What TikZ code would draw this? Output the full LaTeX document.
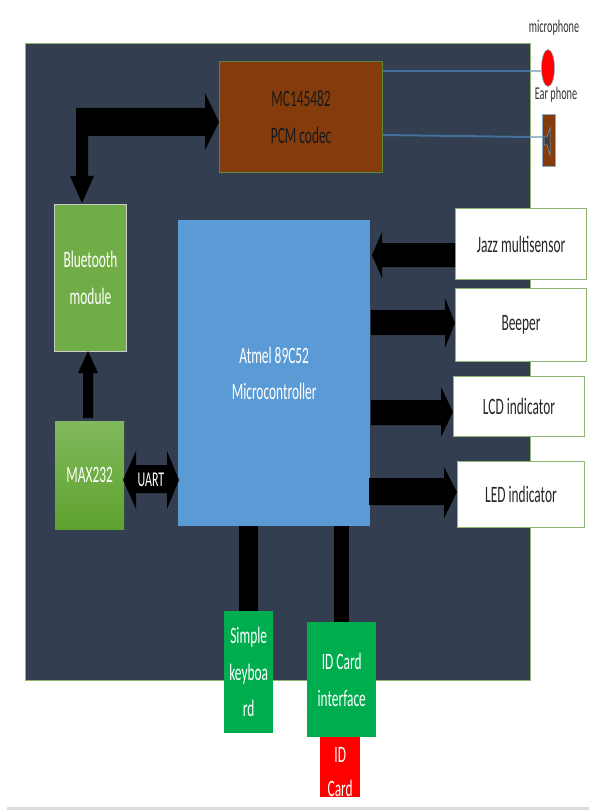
\documentclass[tikz,border=0pt]{standalone}
\usepackage{fontspec}
\usetikzlibrary{shapes.geometric}
\setmainfont[FakeStretch=0.57]{Carlito}
\definecolor{panel}{HTML}{333F50}
\definecolor{edgegreen}{HTML}{8FB573}
\definecolor{codec}{HTML}{843C0C}
\definecolor{mcu}{HTML}{5B9BD5}
\definecolor{leaf}{HTML}{70AD47}
\definecolor{leaftop}{HTML}{80B95C}
\definecolor{leafbottom}{HTML}{5FA22F}
\definecolor{idgreen}{HTML}{00AD4E}
\definecolor{wire}{HTML}{41719C}
\tikzset{
  x=1pt,y=-1pt,
  block/.style={inner sep=0pt,align=center,text=white,font=\fontsize{23.5}{36.5}\selectfont},
  whitebox/.style={block,fill=white,draw=edgegreen,line width=1pt,text=black!85},
  fat/.style={fill=black,draw=none},
  caption/.style={inner sep=0pt,text=black!80,font=\fontsize{18}{20}\selectfont},
  wireline/.style={draw=wire,line width=2pt},
  wireout/.style={draw=wire!50,line width=2pt}
}
\newcommand{\boxat}[7]{% name, style, x0, y0, x1, y1, text
  \node[#2,minimum width=#5pt-#3pt,minimum height=#6pt-#4pt,anchor=north west] (#1) at (#3,#4) {#7};}
\begin{document}
\begin{tikzpicture}
\useasboundingbox (0,0) rectangle (589,810);
\fill[white] (0,0) rectangle (589,810);
\fill[black!14] (7,807) rectangle (589,810);
\boxat{panel}{fill=panel,draw=edgegreen,line width=1pt}{25}{43}{530}{680}{}
% codec and audio
\boxat{codec}{block,fill=codec,draw=leaf!80!black,line width=1.2pt,text=black!90}{219}{61}{382}{172}{MC145482\\PCM codec}
\node[ellipse,fill=red,draw=wire!60,line width=0.6pt,minimum width=13pt,minimum height=37pt,inner sep=0pt] (mic) at (548,68) {};
\boxat{ear}{fill=codec,draw=wire!60,line width=0.8pt}{542}{114}{555}{166}{}
\coordinate (panelmic) at (530,71);
\coordinate (panelear) at (530,137);
\draw[wireline] (codec.east |- panelmic) -- (panelmic);
\draw[wireout] (panelmic) -- (mic.west |- panelmic);
\draw[wireline] (codec.east |- 0,135) -- (panelear);
\draw[wireout] (panelear) -- (ear.west |- panelear);
\fill[black!75,draw=wire!70,line width=0.5pt] (544,137) -- (547,137) -- (550,128) -- (550,155) -- (547,145) -- (544,145) -- cycle;
\node[caption] (miclabel) at (554,28) {microphone};
\node[caption] (earlabel) at (556,95) {Ear phone};
% blocks
\boxat{bt}{block,fill=leaf,draw=white!80!black,line width=1pt}{54}{204}{126}{351}{Bluetooth\\module}
\boxat{max}{block,top color=leaftop,bottom color=leafbottom,draw=none}{55}{421}{124}{529}{MAX232}
\boxat{mcu}{block,fill=mcu,draw=none}{178}{220}{370}{526}{Atmel 89C52\\Microcontroller}
\boxat{jazz}{whitebox}{455}{208}{586}{279}{Jazz multisensor}
\boxat{beep}{whitebox}{455}{288}{586}{361}{Beeper}
\boxat{lcd}{whitebox}{453}{376}{584}{436}{LCD indicator}
\boxat{led}{whitebox}{457}{461}{584}{527}{LED indicator}
\boxat{kbd}{block,fill=idgreen,draw=none}{224}{611}{273}{733}{Simple\\keyboa\\rd}
\boxat{idcard}{block,fill=red,draw=none,font=\fontsize{23.5}{34}\selectfont}{320}{737}{360}{797}{\rule{0pt}{24pt}ID\\Card}
\boxat{idif}{block,fill=idgreen,draw=none}{307}{622}{376}{737}{ID Card\\interface}
% fat arrows
\fill[fat] (codec.west |- 0,122) -- (205,150) -- (205,136) -- (88,136) -- (88,176) -- (94,176) -- (82,203) -- (70,176) -- (76,176) -- (76,108) -- (205,108) -- (205,93) -- cycle;
\fill[fat] (372,255) -- (382,232) -- (382,243) -- (jazz.west |- 0,243) -- (jazz.west |- 0,267) -- (382,267) -- (382,278) -- cycle;
\fill[fat] (beep.west |- 0,323) -- (445,298) -- (445,310) -- (371,310) -- (371,335) -- (445,335) -- (445,348) -- cycle;
\fill[fat] (lcd.west |- 0,412) -- (441,387) -- (441,400) -- (371,400) -- (371,425) -- (441,425) -- (441,437) -- cycle;
\fill[fat] (led.west |- 0,492) -- (444,467) -- (444,478) -- (369,478) -- (369,505) -- (444,505) -- (444,518) -- cycle;
\fill[fat] (88,351) -- (98,373) -- (93,373) -- (93,418) -- (83,418) -- (83,373) -- (78,373) -- cycle;
\fill[fat] (239,526) rectangle (258,611);
\fill[fat] (334,526) rectangle (349,622);
\fill[fat] (123,480) -- (136,451) -- (136,465) -- (167,465) -- (167,451) -- (179,480) -- (167,509) -- (167,493) -- (136,493) -- (136,509) -- cycle;
\node[block,font=\fontsize{21}{24}\selectfont] (uartlabel) at (151,480) {UART};
\end{tikzpicture}
\end{document}
